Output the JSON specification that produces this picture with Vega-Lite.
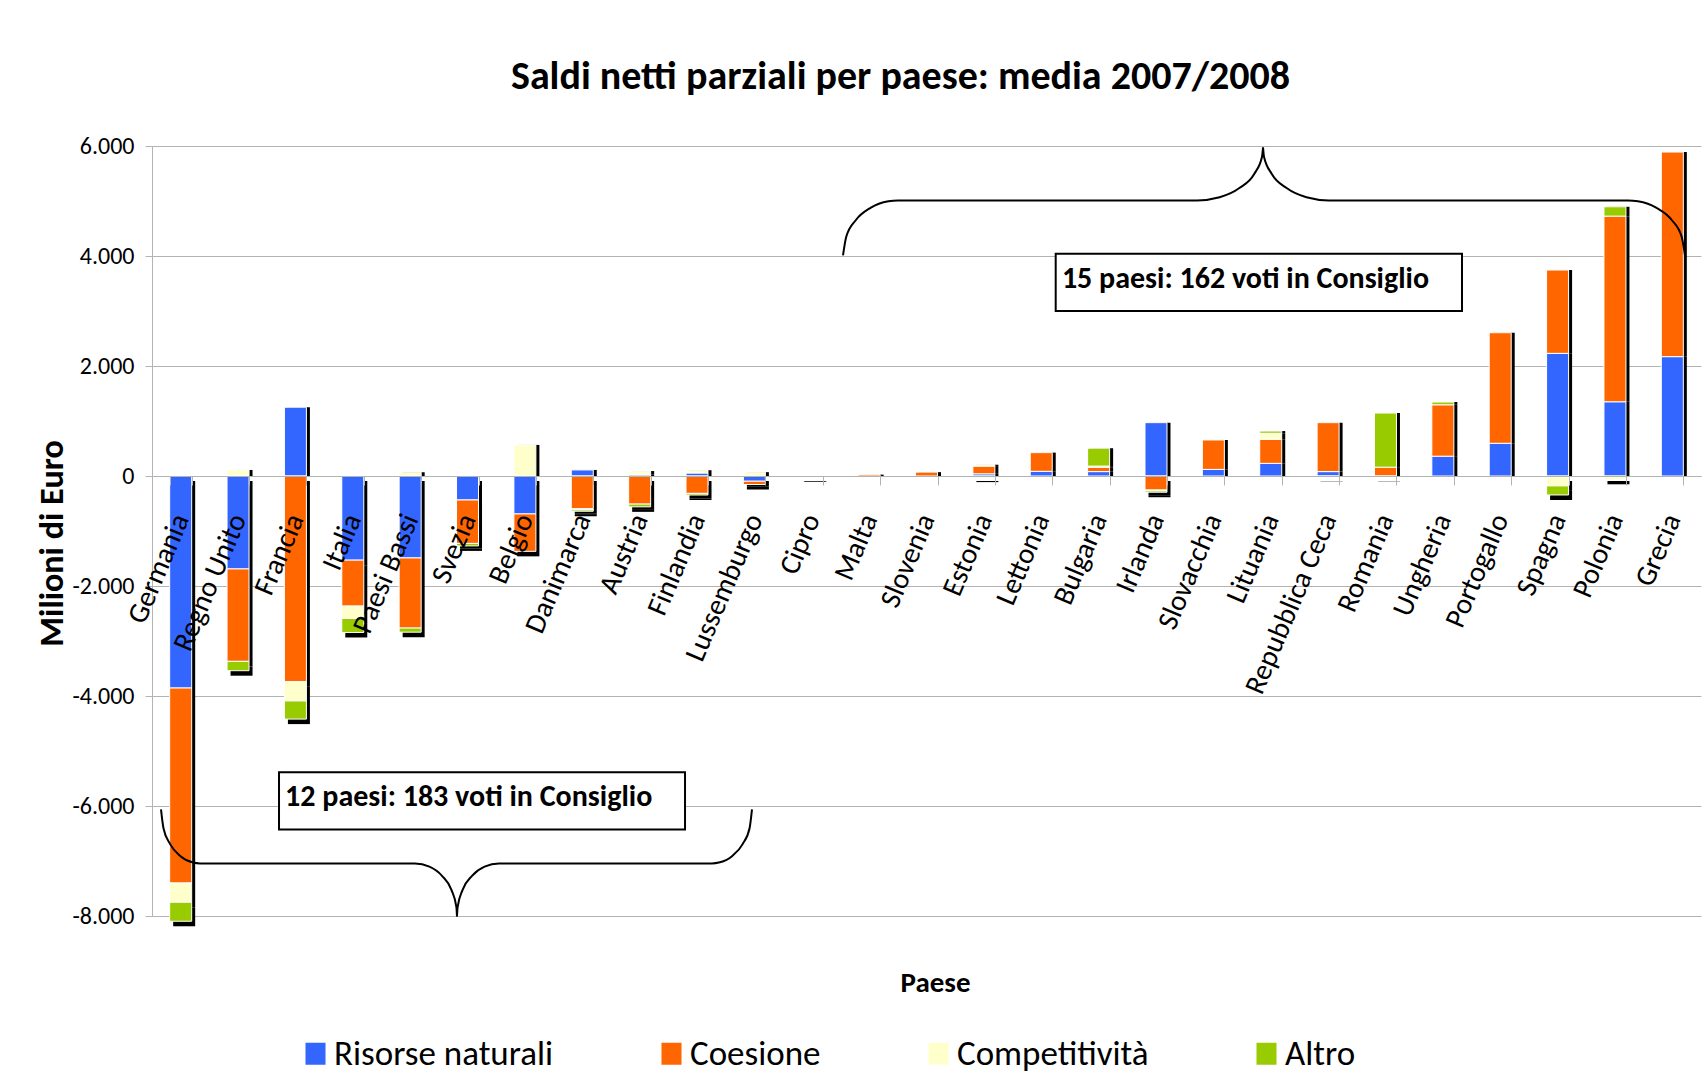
{
  "$schema": "https://vega.github.io/schema/vega-lite/v6.json",
  "width": 1549,
  "height": 770,
  "autosize": {"type": "none"},
  "padding": {"left": 152, "top": 146, "right": 4, "bottom": 164},
  "background": "white",
  "config": {
    "locale": {"number": {"decimal": ",", "thousands": ".", "grouping": [3], "currency": ["€", ""], "minus": "-"}},
    "view": {"stroke": null},
    "font": "Carlito, 'Liberation Sans Narrow', Roboto, sans-serif"
  },
  "title": {
    "text": "Saldi netti parziali per paese: media 2007/2008",
    "fontSize": 40,
    "fontWeight": "bold",
    "color": "black",
    "anchor": "middle",
    "dx": -26,
    "offset": 37
  },
  "datasets": {
    "saldi": [
      {"Paese": "Germania", "Voce": "Risorse naturali", "Valore": -3855},
      {"Paese": "Germania", "Voce": "Coesione", "Valore": -3545},
      {"Paese": "Germania", "Voce": "Competitività", "Valore": -350},
      {"Paese": "Germania", "Voce": "Altro", "Valore": -346},
      {"Paese": "Regno Unito", "Voce": "Risorse naturali", "Valore": -1690},
      {"Paese": "Regno Unito", "Voce": "Coesione", "Valore": -1680},
      {"Paese": "Regno Unito", "Voce": "Competitività", "Valore": 110},
      {"Paese": "Regno Unito", "Voce": "Altro", "Valore": -170},
      {"Paese": "Francia", "Voce": "Risorse naturali", "Valore": 1250},
      {"Paese": "Francia", "Voce": "Coesione", "Valore": -3740},
      {"Paese": "Francia", "Voce": "Competitività", "Valore": -350},
      {"Paese": "Francia", "Voce": "Altro", "Valore": -330},
      {"Paese": "Italia", "Voce": "Risorse naturali", "Valore": -1530},
      {"Paese": "Italia", "Voce": "Coesione", "Valore": -835},
      {"Paese": "Italia", "Voce": "Competitività", "Valore": -225},
      {"Paese": "Italia", "Voce": "Altro", "Valore": -255},
      {"Paese": "Paesi Bassi", "Voce": "Risorse naturali", "Valore": -1490},
      {"Paese": "Paesi Bassi", "Voce": "Coesione", "Valore": -1275},
      {"Paese": "Paesi Bassi", "Voce": "Competitività", "Valore": 70},
      {"Paese": "Paesi Bassi", "Voce": "Altro", "Valore": -75},
      {"Paese": "Svezia", "Voce": "Risorse naturali", "Valore": -436},
      {"Paese": "Svezia", "Voce": "Coesione", "Valore": -790},
      {"Paese": "Svezia", "Voce": "Altro", "Valore": -45},
      {"Paese": "Belgio", "Voce": "Risorse naturali", "Valore": -690},
      {"Paese": "Belgio", "Voce": "Coesione", "Valore": -680},
      {"Paese": "Belgio", "Voce": "Competitività", "Valore": 565},
      {"Paese": "Danimarca", "Voce": "Risorse naturali", "Valore": 110},
      {"Paese": "Danimarca", "Voce": "Coesione", "Valore": -596},
      {"Paese": "Danimarca", "Voce": "Competitività", "Valore": -20},
      {"Paese": "Danimarca", "Voce": "Altro", "Valore": -25},
      {"Paese": "Austria", "Voce": "Risorse naturali", "Valore": 30},
      {"Paese": "Austria", "Voce": "Coesione", "Valore": -511},
      {"Paese": "Austria", "Voce": "Competitività", "Valore": 60},
      {"Paese": "Austria", "Voce": "Altro", "Valore": -50},
      {"Paese": "Finlandia", "Voce": "Risorse naturali", "Valore": 55},
      {"Paese": "Finlandia", "Voce": "Coesione", "Valore": -316},
      {"Paese": "Finlandia", "Voce": "Competitività", "Valore": 50},
      {"Paese": "Finlandia", "Voce": "Altro", "Valore": -30},
      {"Paese": "Lussemburgo", "Voce": "Risorse naturali", "Valore": -95},
      {"Paese": "Lussemburgo", "Voce": "Coesione", "Valore": -60},
      {"Paese": "Lussemburgo", "Voce": "Competitività", "Valore": 70},
      {"Paese": "Cipro", "Voce": "Risorse naturali", "Valore": -8},
      {"Paese": "Cipro", "Voce": "Coesione", "Valore": -10},
      {"Paese": "Malta", "Voce": "Coesione", "Valore": 25},
      {"Paese": "Slovenia", "Voce": "Coesione", "Valore": 70},
      {"Paese": "Estonia", "Voce": "Risorse naturali", "Valore": 40},
      {"Paese": "Estonia", "Voce": "Coesione", "Valore": 140},
      {"Paese": "Estonia", "Voce": "Competitività", "Valore": 25},
      {"Paese": "Estonia", "Voce": "Altro", "Valore": -20},
      {"Paese": "Lettonia", "Voce": "Risorse naturali", "Valore": 85},
      {"Paese": "Lettonia", "Voce": "Coesione", "Valore": 340},
      {"Paese": "Bulgaria", "Voce": "Risorse naturali", "Valore": 80},
      {"Paese": "Bulgaria", "Voce": "Coesione", "Valore": 80},
      {"Paese": "Bulgaria", "Voce": "Competitività", "Valore": 20},
      {"Paese": "Bulgaria", "Voce": "Altro", "Valore": 325},
      {"Paese": "Irlanda", "Voce": "Risorse naturali", "Valore": 970},
      {"Paese": "Irlanda", "Voce": "Coesione", "Valore": -255},
      {"Paese": "Irlanda", "Voce": "Competitività", "Valore": -15},
      {"Paese": "Irlanda", "Voce": "Altro", "Valore": -25},
      {"Paese": "Slovacchia", "Voce": "Risorse naturali", "Valore": 120},
      {"Paese": "Slovacchia", "Voce": "Coesione", "Valore": 535},
      {"Paese": "Lituania", "Voce": "Risorse naturali", "Valore": 230},
      {"Paese": "Lituania", "Voce": "Coesione", "Valore": 437},
      {"Paese": "Lituania", "Voce": "Competitività", "Valore": 110},
      {"Paese": "Lituania", "Voce": "Altro", "Valore": 40},
      {"Paese": "Repubblica Ceca", "Voce": "Risorse naturali", "Valore": 80},
      {"Paese": "Repubblica Ceca", "Voce": "Coesione", "Valore": 890},
      {"Paese": "Repubblica Ceca", "Voce": "Competitività", "Valore": -5},
      {"Paese": "Romania", "Voce": "Coesione", "Valore": 160},
      {"Paese": "Romania", "Voce": "Competitività", "Valore": -5},
      {"Paese": "Romania", "Voce": "Altro", "Valore": 985},
      {"Paese": "Ungheria", "Voce": "Risorse naturali", "Valore": 360},
      {"Paese": "Ungheria", "Voce": "Coesione", "Valore": 935},
      {"Paese": "Ungheria", "Voce": "Altro", "Valore": 50},
      {"Paese": "Portogallo", "Voce": "Risorse naturali", "Valore": 595},
      {"Paese": "Portogallo", "Voce": "Coesione", "Valore": 2010},
      {"Paese": "Spagna", "Voce": "Risorse naturali", "Valore": 2230},
      {"Paese": "Spagna", "Voce": "Coesione", "Valore": 1515},
      {"Paese": "Spagna", "Voce": "Competitività", "Valore": -180},
      {"Paese": "Spagna", "Voce": "Altro", "Valore": -165},
      {"Paese": "Polonia", "Voce": "Risorse naturali", "Valore": 1350},
      {"Paese": "Polonia", "Voce": "Coesione", "Valore": 3375},
      {"Paese": "Polonia", "Voce": "Competitività", "Valore": -60},
      {"Paese": "Polonia", "Voce": "Altro", "Valore": 170},
      {"Paese": "Grecia", "Voce": "Risorse naturali", "Valore": 2170},
      {"Paese": "Grecia", "Voce": "Coesione", "Valore": 3720}
    ],
    "voci": [
      {"Voce": "Risorse naturali", "ordine": 1},
      {"Voce": "Coesione", "ordine": 2},
      {"Voce": "Competitività", "ordine": 3},
      {"Voce": "Altro", "ordine": 4}
    ],
    "graffe": [
      {"tratto": "inf-s", "pos": 0.157, "Valore": -6063},
      {"tratto": "inf-s", "pos": 0.199, "Valore": -6399},
      {"tratto": "inf-s", "pos": 0.316, "Valore": -6693},
      {"tratto": "inf-s", "pos": 0.497, "Valore": -6913},
      {"tratto": "inf-s", "pos": 0.718, "Valore": -7029},
      {"tratto": "inf-s", "pos": 0.837, "Valore": -7044},
      {"tratto": "inf-s", "pos": 4.584, "Valore": -7044},
      {"tratto": "inf-s", "pos": 4.835, "Valore": -7102},
      {"tratto": "inf-s", "pos": 5.055, "Valore": -7269},
      {"tratto": "inf-s", "pos": 5.219, "Valore": -7525},
      {"tratto": "inf-s", "pos": 5.306, "Valore": -7839},
      {"tratto": "inf-s", "pos": 5.316, "Valore": -8006},
      {"tratto": "inf-d", "pos": 5.316, "Valore": -8006},
      {"tratto": "inf-d", "pos": 5.327, "Valore": -7839},
      {"tratto": "inf-d", "pos": 5.414, "Valore": -7525},
      {"tratto": "inf-d", "pos": 5.578, "Valore": -7269},
      {"tratto": "inf-d", "pos": 5.797, "Valore": -7102},
      {"tratto": "inf-d", "pos": 6.048, "Valore": -7044},
      {"tratto": "inf-d", "pos": 9.761, "Valore": -7044},
      {"tratto": "inf-d", "pos": 9.882, "Valore": -7029},
      {"tratto": "inf-d", "pos": 10.110, "Valore": -6913},
      {"tratto": "inf-d", "pos": 10.295, "Valore": -6693},
      {"tratto": "inf-d", "pos": 10.417, "Valore": -6399},
      {"tratto": "inf-d", "pos": 10.458, "Valore": -6063},
      {"tratto": "sup-s", "pos": 12.045, "Valore": 4012},
      {"tratto": "sup-s", "pos": 12.102, "Valore": 4353},
      {"tratto": "sup-s", "pos": 12.270, "Valore": 4655},
      {"tratto": "sup-s", "pos": 12.524, "Valore": 4876},
      {"tratto": "sup-s", "pos": 12.836, "Valore": 4996},
      {"tratto": "sup-s", "pos": 13.003, "Valore": 5011},
      {"tratto": "sup-s", "pos": 18.215, "Valore": 5011},
      {"tratto": "sup-s", "pos": 18.609, "Valore": 5069},
      {"tratto": "sup-s", "pos": 18.954, "Valore": 5236},
      {"tratto": "sup-s", "pos": 19.212, "Valore": 5492},
      {"tratto": "sup-s", "pos": 19.348, "Valore": 5806},
      {"tratto": "sup-s", "pos": 19.366, "Valore": 5973},
      {"tratto": "sup-d", "pos": 19.366, "Valore": 5973},
      {"tratto": "sup-d", "pos": 19.383, "Valore": 5806},
      {"tratto": "sup-d", "pos": 19.519, "Valore": 5492},
      {"tratto": "sup-d", "pos": 19.777, "Valore": 5236},
      {"tratto": "sup-d", "pos": 20.122, "Valore": 5069},
      {"tratto": "sup-d", "pos": 20.516, "Valore": 5011},
      {"tratto": "sup-d", "pos": 25.728, "Valore": 5011},
      {"tratto": "sup-d", "pos": 25.900, "Valore": 4996},
      {"tratto": "sup-d", "pos": 26.225, "Valore": 4876},
      {"tratto": "sup-d", "pos": 26.490, "Valore": 4655},
      {"tratto": "sup-d", "pos": 26.662, "Valore": 4353},
      {"tratto": "sup-d", "pos": 26.721, "Valore": 4012}
    ],
    "riquadri": [
      {"testo": "12 paesi: 183 voti in Consiglio", "x1": 2.214, "x2": 9.291, "y1": -5386, "y2": -6427, "xt": 2.32, "yt": -5830},
      {"testo": "15 paesi: 162 voti in Consiglio", "x1": 15.752, "x2": 22.834, "y1": 4043, "y2": 3001, "xt": 15.86, "yt": 3580}
    ]
  },
  "layer": [
    {
      "data": {"name": "saldi"},
      "transform": [
        {"lookup": "Voce", "from": {"data": {"name": "voci"}, "key": "Voce", "fields": ["ordine"]}}
      ],
      "encoding": {
        "x": {
          "field": "Paese",
          "type": "nominal",
          "scale": {
            "domain": ["Germania", "Regno Unito", "Francia", "Italia", "Paesi Bassi", "Svezia", "Belgio", "Danimarca", "Austria", "Finlandia", "Lussemburgo", "Cipro", "Malta", "Slovenia", "Estonia", "Lettonia", "Bulgaria", "Irlanda", "Slovacchia", "Lituania", "Repubblica Ceca", "Romania", "Ungheria", "Portogallo", "Spagna", "Polonia", "Grecia"],
            "paddingInner": 0.6165,
            "paddingOuter": 0.308
          },
          "axis": {
            "orient": "bottom",
            "offset": -440,
            "zindex": 1,
            "title": "Paese",
            "titleFontSize": 29,
            "titleFontWeight": "bold",
            "titleColor": "black",
            "titleX": 783,
            "titleY": 506,
            "titleBaseline": "middle",
            "titleAlign": "center",
            "labelAngle": -67,
            "labelAlign": "right",
            "labelBaseline": "middle",
            "labelFontSize": 29,
            "labelPadding": 30,
            "labelColor": "black",
            "labelLimit": 400,
            "labelOverlap": false,
            "tickBand": "extent",
            "tickSize": 9,
            "tickColor": "#b3b3b3",
            "domainColor": "#b3b3b3",
            "grid": false
          }
        },
        "y": {
          "field": "Valore",
          "type": "quantitative",
          "stack": "zero",
          "scale": {"domain": [-8000, 6000], "nice": false, "zero": false},
          "axis": {
            "values": [-8000, -6000, -4000, -2000, 0, 2000, 4000, 6000],
            "format": ",d",
            "grid": true,
            "gridColor": "#b3b3b3",
            "domainColor": "#b3b3b3",
            "tickColor": "#b3b3b3",
            "tickSize": 7,
            "labelFontSize": 24,
            "labelPadding": 11,
            "labelColor": "black",
            "title": "Milioni di Euro",
            "titleFontSize": 34,
            "titleFontWeight": "bold",
            "titleColor": "black",
            "titleAngle": -90,
            "titleX": -99.5,
            "titleY": 397,
            "titleBaseline": "middle",
            "titleAlign": "center"
          }
        }
      },
      "layer": [
        {
          "transform": [{"filter": "datum.Valore > 0"}],
          "mark": {"type": "bar", "color": "black", "xOffset": 3.5, "yOffset": 0, "y2Offset": 4},
          "encoding": {"detail": {"field": "Voce"}, "order": {"field": "ordine", "type": "quantitative"}}
        },
        {
          "transform": [{"filter": "datum.Valore < 0"}],
          "mark": {"type": "bar", "color": "black", "xOffset": 3.5, "yOffset": 5, "y2Offset": 5},
          "encoding": {"detail": {"field": "Voce"}, "order": {"field": "ordine", "type": "quantitative"}}
        },
        {
          "mark": {"type": "bar", "stroke": "white", "strokeWidth": 1},
          "encoding": {
            "color": {
              "field": "Voce",
              "type": "nominal",
              "scale": {
                "domain": ["Risorse naturali", "Coesione", "Competitività", "Altro"],
                "range": ["#3366ff", "#ff6600", "#ffffcc", "#99cc00"]
              },
              "legend": {
                "orient": "none",
                "legendX": 146,
                "legendY": 890,
                "direction": "horizontal",
                "columns": 4,
                "title": null,
                "symbolType": "M-0.91,-1H0.91V1H-0.91Z",
                "symbolSize": 484,
                "symbolStrokeWidth": 0,
                "labelFontSize": 35,
                "labelColor": "black",
                "labelOffset": 1,
                "labelLimit": 400,
                "columnPadding": 100,
                "padding": 0
              }
            },
            "order": {"field": "ordine", "type": "quantitative"}
          }
        }
      ]
    },
    {
      "data": {"name": "graffe"},
      "mark": {"type": "line", "color": "black", "strokeWidth": 2, "interpolate": "monotone"},
      "encoding": {
        "x": {"field": "pos", "type": "quantitative", "scale": {"domain": [0, 27], "nice": false, "zero": false}, "axis": null},
        "y": {"field": "Valore", "type": "quantitative", "scale": {"domain": [-8000, 6000], "nice": false, "zero": false}, "axis": null},
        "detail": {"field": "tratto"}
      }
    },
    {
      "data": {"name": "riquadri"},
      "mark": {"type": "rect", "fill": "white", "stroke": "black", "strokeWidth": 2},
      "encoding": {
        "x": {"field": "x1", "type": "quantitative", "scale": {"domain": [0, 27], "nice": false, "zero": false}, "axis": null},
        "x2": {"field": "x2"},
        "y": {"field": "y1", "type": "quantitative", "scale": {"domain": [-8000, 6000], "nice": false, "zero": false}, "axis": null},
        "y2": {"field": "y2"}
      }
    },
    {
      "data": {"name": "riquadri"},
      "mark": {"type": "text", "align": "left", "baseline": "middle", "fontSize": 30, "fontWeight": "bold", "color": "black"},
      "encoding": {
        "x": {"field": "xt", "type": "quantitative", "scale": {"domain": [0, 27], "nice": false, "zero": false}, "axis": null},
        "y": {"field": "yt", "type": "quantitative", "scale": {"domain": [-8000, 6000], "nice": false, "zero": false}, "axis": null},
        "text": {"field": "testo"}
      }
    }
  ],
  "resolve": {"scale": {"x": "independent"}, "axis": {"y": "independent"}}
}
